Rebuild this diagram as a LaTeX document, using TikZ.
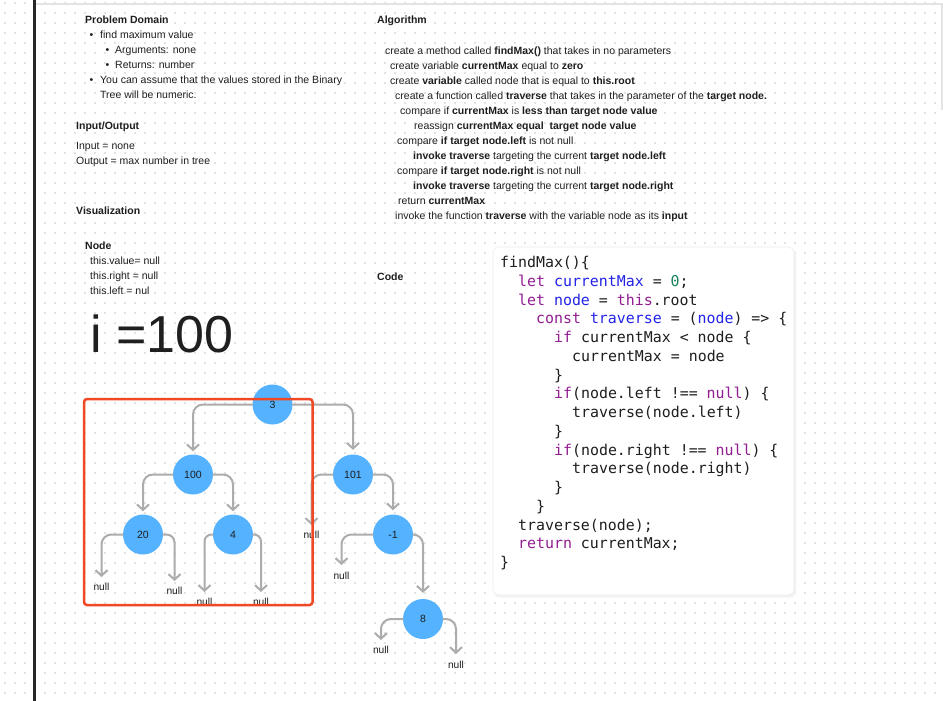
\documentclass[tikz,border=0pt]{standalone}
\usepackage{fontspec}
\setmainfont{Liberation Sans}
\newfontfamily\codefont{DejaVu Sans Mono}
\usetikzlibrary{arrows.meta}
\definecolor{dotc}{RGB}{226,226,226}
\definecolor{txtc}{RGB}{30,30,30}
\definecolor{nodec}{RGB}{84,178,255}
\definecolor{connc}{RGB}{172,172,172}
\definecolor{redc}{RGB}{240,72,36}
\definecolor{kwc}{RGB}{145,30,145}
\definecolor{varc}{RGB}{35,35,230}
\definecolor{numc}{RGB}{25,130,90}
\definecolor{framec}{RGB}{228,228,228}
\newcommand\ckw[1]{\textcolor{kwc}{#1}}
\newcommand\cvar[1]{\textcolor{varc}{#1}}
\newcommand\cnum[1]{\textcolor{numc}{#1}}
\begin{document}
\begin{tikzpicture}[x=1pt,y=-1pt,
  txt/.style={anchor=base west, inner sep=0pt, text=txtc, font=\fontsize{10.5}{12}\selectfont},
  code/.style={anchor=base west, inner sep=0pt, text=txtc, font=\codefont\fontsize{14.9}{18}\selectfont},
  tnode/.style={circle, fill=nodec, minimum size=40pt, inner sep=0pt, text=txtc, font=\fontsize{10.5}{12}\selectfont},
  conn/.style={draw=connc, line width=2pt, rounded corners=10pt, -{Straight Barb[length=5.5pt,width=12pt]}, line cap=round},
  nulllab/.style={inner sep=0pt, text=txtc, font=\fontsize{10.2}{12}\selectfont},
]
\useasboundingbox (0,0) rectangle (943,701);
\fill[white] (0,0) rectangle (943,701);
% dot grid
\foreach \i in {0,...,93} {
  \foreach \j in {0,...,69} {
    \fill[dotc] (4.2+10*\i,2.2+10*\j) rectangle ++(1.6,1.6);
  }
}
% frame
\draw[framec, line width=1.5pt] (35,4) -- (942,4) -- (942,110);
\draw[black!85, line width=2.2pt] (34.5,0) -- (34.5,701);

% left column texts
\node[txt] (pd) at (85,24) {\textbf{Problem Domain}};
\node[txt] (b1) at (89.5,39) {•};
\node[txt] (t1) at (100,39) {find maximum value};
\node[txt] (b2) at (105.5,54) {•};
\node[txt] (t2) at (115,54) {Arguments: none};
\node[txt] (b3) at (105.5,69) {•};
\node[txt] (t3) at (115,69) {Returns: number};
\node[txt] (b4) at (89.5,84) {•};
\node[txt] (t4) at (100,84) {You can assume that the values stored in the Binary};
\node[txt] (t5) at (100,99) {Tree will be numeric.};
\node[txt] (io) at (76,129) {\textbf{Input/Output}};
\node[txt] (in) at (76,149) {Input = none};
\node[txt] (out) at (76,164) {Output = max number in tree};
\node[txt] (vis) at (76,214) {\textbf{Visualization}};
\node[txt] (nd) at (85,249) {\textbf{Node}};
\node[txt] (nv) at (90,264) {this.value= null};
\node[txt] (nr) at (90,279) {this.right = null};
\node[txt] (nl) at (90,294) {this.left = nul};
\node[txt, font=\fontsize{52}{60}\selectfont, text=black!88] (ival) at (90,352) {i =100};

% algorithm
\node[txt] (alg) at (377,24) {\textbf{Algorithm}};
\node[txt] (a1) at (385,54.5) {create a method called \textbf{findMax()} that takes in no parameters};
\node[txt] (a2) at (390,69.5) {create variable \textbf{currentMax} equal to \textbf{zero}};
\node[txt] (a3) at (390,84.5) {create \textbf{variable} called node that is equal to \textbf{this.root}};
\node[txt] (a4) at (395,99.5) {create a function called \textbf{traverse} that takes in the parameter of the \textbf{target node.}};
\node[txt] (a5) at (400,114.5) {compare if \textbf{currentMax} is \textbf{less than target node value}};
\node[txt] (a6) at (414,129.5) {reassign \textbf{currentMax equal\ \ target node value}};
\node[txt] (a7) at (397,144.5) {compare \textbf{if target node.left} is not null};
\node[txt] (a8) at (413,159.5) {\textbf{invoke traverse} targeting the current \textbf{target node.left}};
\node[txt] (a9) at (397,174.5) {compare \textbf{if target node.right} is not null};
\node[txt] (a10) at (413,189.5) {\textbf{invoke traverse} targeting the current \textbf{target node.right}};
\node[txt] (a11) at (398,204.5) {return \textbf{currentMax}};
\node[txt] (a12) at (395,219.5) {invoke the function \textbf{traverse} with the variable node as its \textbf{input}};
\node[txt] (cd) at (377,280) {\textbf{Code}};

% code box
\fill[black!5, rounded corners=6pt] (494,249) rectangle (796,597.5);
\fill[white, rounded corners=6pt] (493,247) rectangle (794,595);
\draw[black!7, line width=0.6pt, rounded corners=6pt] (493,247) rectangle (794,595);
\node[code] (c1) at (500,267.5) {findMax()\{};
\node[code] (c2) at (518,286.25) {\ckw{let} \cvar{currentMax} = \cnum{0};};
\node[code] (c3) at (518,305) {\ckw{let} \cvar{node} = \ckw{this}.root};
\node[code] (c4) at (536,323.75) {\ckw{const} \cvar{traverse} = (\cvar{node}) => \{};
\node[code] (c5) at (554,342.5) {\ckw{if} currentMax < node \{};
\node[code] (c6) at (572,361.25) {currentMax = node};
\node[code] (c7) at (554,380) {\}};
\node[code] (c8) at (554,398.75) {\ckw{if}(node.left !== \ckw{null}) \{};
\node[code] (c9) at (572,417.5) {traverse(node.left)};
\node[code] (c10) at (554,436.25) {\}};
\node[code] (c11) at (554,455) {\ckw{if}(node.right !== \ckw{null}) \{};
\node[code] (c12) at (572,473.75) {traverse(node.right)};
\node[code] (c13) at (554,492.5) {\}};
\node[code] (c14) at (536,511.25) {\}};
\node[code] (c15) at (518,530) {traverse(node);};
\node[code] (c16) at (518,548.75) {\ckw{return} currentMax;};
\node[code] (c17) at (500,567.5) {\}};

% tree
\node[tnode] (n3) at (272.5,404.5) {3};
\node[tnode] (n100) at (193,474.5) {100};
\node[tnode] (n20) at (143,534.5) {20};
\node[tnode] (n4) at (233,534.5) {4};
\node[tnode] (n101) at (353,474.5) {101};
\node[tnode] (nm1) at (393,534.5) {-1};
\node[tnode] (n8) at (423,619) {8};

\coordinate (z20l) at (101.5,577);
\coordinate (z20r) at (174.5,581);
\coordinate (z4l) at (204.5,592);
\coordinate (z4r) at (261,592);
\coordinate (z101l) at (311.5,525);
\coordinate (zm1l) at (341.5,565);
\coordinate (z8l) at (381,640);
\coordinate (z8r) at (456,654);

\draw[conn, shorten >=3pt] (n3.west) -| (n100.north);
\draw[conn, shorten >=4.5pt] (n3.east) -| (n101.north);
\draw[conn, shorten >=3pt] (n100.west) -| (n20.north);
\draw[conn, shorten >=3pt] (n100.east) -| (n4.north);
\draw[conn, shorten >=4pt] (n101.east) -| (nm1.north);
\draw[conn, shorten >=6pt] (nm1.east) -| (n8.north);
\draw[conn] (n20.west) -| (z20l);
\draw[conn, rounded corners=8pt] (n20.east) -| (z20r);
\draw[conn, rounded corners=7pt] (n4.west) -| (z4l);
\draw[conn, rounded corners=7pt] (n4.east) -| (z4r);
\draw[conn] (n101.west) -| (z101l);
\draw[conn] (nm1.west) -| (zm1l);
\draw[conn] (n8.west) -| (z8l);
\draw[conn] (n8.east) -| (z8r);

\node[nulllab] (l20l) at (101.5,587) {null};
\node[nulllab] (l20r) at (174.5,591) {null};
\node[nulllab] (l4l) at (204.5,602) {null};
\node[nulllab] (l4r) at (261,602) {null};
\node[nulllab] (l101l) at (311.5,535) {null};
\node[nulllab] (lm1l) at (341.5,575.5) {null};
\node[nulllab] (l8l) at (381,650) {null};
\node[nulllab] (l8r) at (456,665) {null};

% highlight box
\draw[redc, line width=2.5pt, rounded corners=3pt] (84,399) rectangle (312.5,605);
\end{tikzpicture}
\end{document}
